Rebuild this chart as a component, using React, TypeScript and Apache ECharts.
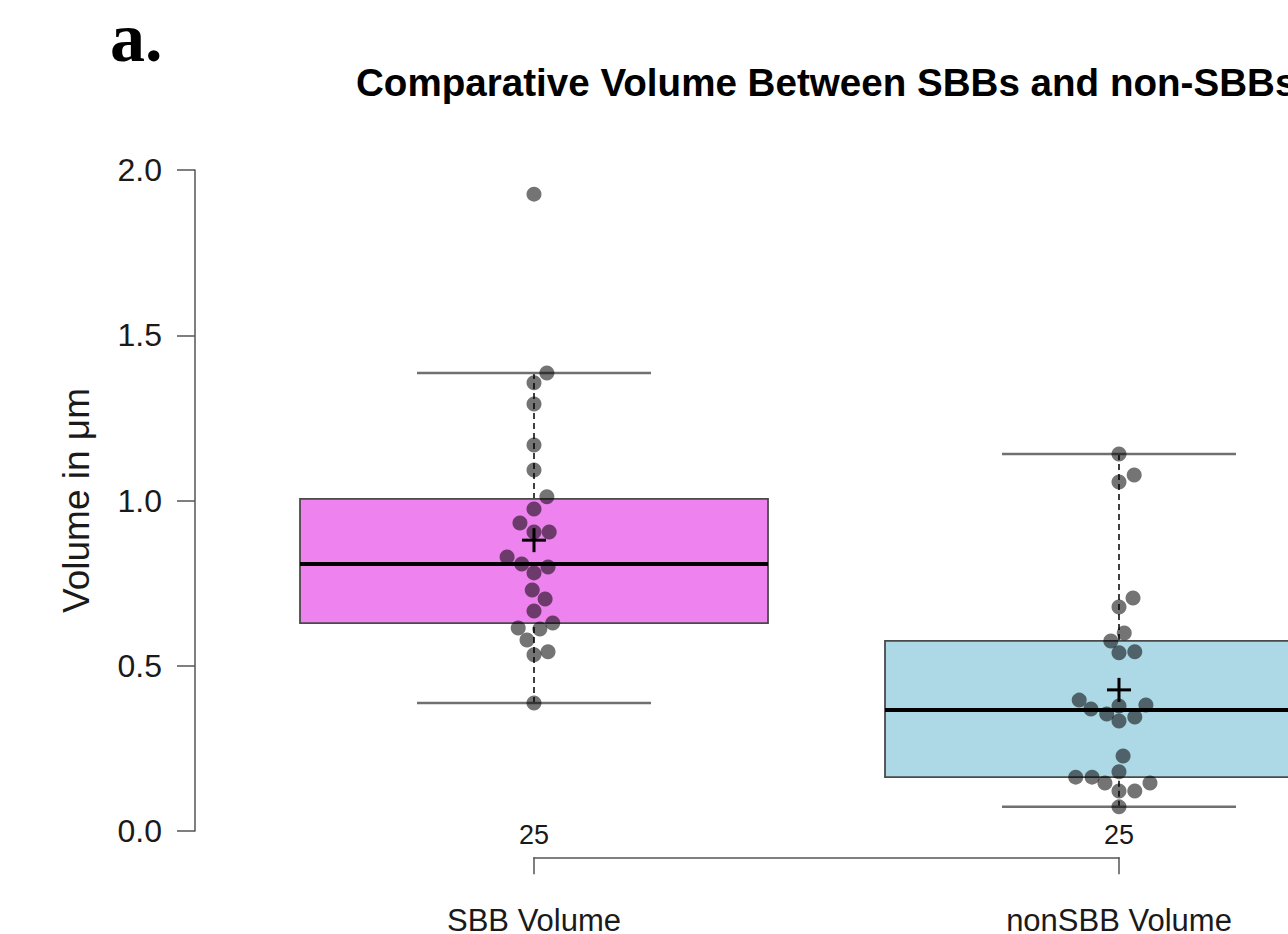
import React, { useEffect, useRef } from "react";
import * as echarts from "echarts";

// ---- data ----
const CATEGORIES = ["SBB Volume", "nonSBB Volume"];
const COUNTS = [25, 25];
const BOX_COLORS = ["#EE82EE", "#ADD8E6"];
const WHISKER_LOW = [0.387, 0.073];
const Q1 = [0.629, 0.163];
const MEDIAN = [0.808, 0.366];
const Q3 = [1.005, 0.575];
const WHISKER_HIGH = [1.386, 1.141];
const MEANS = [0.88, 0.427];

const SBB_VALUES = [
  1.927, 1.386, 1.356, 1.292, 1.168, 1.092, 1.011, 0.974, 0.932, 0.905, 0.905,
  0.829, 0.808, 0.799, 0.781, 0.729, 0.702, 0.666, 0.614, 0.611, 0.629, 0.578,
  0.542, 0.533, 0.387,
];
// horizontal beeswarm offsets (in category units)
const SBB_OFFSETS = [
  0, 0.022, 0, 0, 0, 0, 0.022, 0, -0.024, 0.026, 0, -0.046, -0.021, 0.024, 0,
  -0.003, 0.019, 0, -0.027, 0.01, 0.032, -0.012, 0.024, 0, 0,
];
const NONSBB_VALUES = [
  1.141, 1.077, 1.056, 0.705, 0.678, 0.599, 0.575, 0.539, 0.542, 0.396, 0.369,
  0.354, 0.378, 0.381, 0.333, 0.345, 0.227, 0.179, 0.163, 0.163, 0.145, 0.121,
  0.121, 0.145, 0.073,
];
const NONSBB_OFFSETS = [
  0, 0.026, 0, 0.024, 0, 0.009, -0.014, 0, 0.027, -0.068, -0.048, -0.021, 0,
  0.046, 0, 0.027, 0.007, 0, -0.074, -0.046, -0.024, 0, 0.027, 0.053, 0,
];

const Y_MIN = 0;
const Y_MAX = 2;
const Y_INTERVAL = 0.5;

const BOX_HALF = 0.4;
const CAP_HALF = 0.2;
const FONT = '"Liberation Sans", Arial, Helvetica, sans-serif';

export default function App() {
  const ref = useRef<HTMLDivElement>(null);

  useEffect(() => {
    if (!ref.current) return;
    const chart = echarts.init(ref.current, undefined, { renderer: "svg" });

    const boxData = CATEGORIES.map((_, i) => [
      i + 1,
      WHISKER_LOW[i],
      Q1[i],
      MEDIAN[i],
      Q3[i],
      WHISKER_HIGH[i],
    ]);
    const dots: number[][] = [];
    SBB_VALUES.forEach((v, i) => dots.push([1 + SBB_OFFSETS[i], v]));
    NONSBB_VALUES.forEach((v, i) => dots.push([2 + NONSBB_OFFSETS[i], v]));
    const meanData = MEANS.map((m, i) => [i + 1, m]);

    const option: any = {
      animation: false,
      backgroundColor: "#ffffff",
      graphic: [
        {
          type: "text",
          x: 110,
          y: 37,
          style: {
            text: "a.",
            fontFamily: '"Liberation Serif", "Times New Roman", serif',
            fontWeight: "bold",
            fontSize: 70,
            fill: "#000",
            verticalAlign: "middle",
            align: "left",
          },
        },
        {
          type: "text",
          x: 356,
          y: 82,
          style: {
            text: "Comparative Volume Between SBBs and non-SBBs",
            fontFamily: FONT,
            fontWeight: "bold",
            fontSize: 38.6,
            fill: "#000",
            verticalAlign: "middle",
            align: "left",
          },
        },
      ],
      grid: [
        { left: 195, right: 0, top: 170, bottom: 103 },
        { left: 534, right: 169, top: 857, height: 1 },
      ],
      xAxis: [
        {
          gridIndex: 0,
          type: "value",
          min: 0.4205,
          max: 2.2889,
          show: false,
        },
        {
          gridIndex: 1,
          type: "value",
          min: 1,
          max: 2,
          interval: 1,
          position: "bottom",
          axisLine: { show: true, lineStyle: { color: "#555", width: 1.5 } },
          axisTick: { show: true, length: 17, lineStyle: { color: "#555", width: 1.5 } },
          splitLine: { show: false },
          axisLabel: {
            showMinLabel: true,
            showMaxLabel: true,
            margin: 48,
            fontSize: 31,
            fontFamily: FONT,
            color: "#1a1a1a",
            formatter: (v: number) => CATEGORIES[Math.round(v) - 1] ?? "",
          },
        },
        {
          gridIndex: 1,
          type: "value",
          min: 1,
          max: 2,
          interval: 1,
          position: "top",
          axisLine: { show: false },
          axisTick: { show: false },
          splitLine: { show: false },
          axisLabel: {
            showMinLabel: true,
            showMaxLabel: true,
            margin: 9,
            fontSize: 27,
            fontFamily: FONT,
            color: "#1a1a1a",
            formatter: (v: number) => String(COUNTS[Math.round(v) - 1] ?? ""),
          },
        },
      ],
      yAxis: [
        {
          gridIndex: 0,
          type: "value",
          min: Y_MIN,
          max: Y_MAX,
          interval: Y_INTERVAL,
          name: "Volume in \u03bcm",
          nameLocation: "middle",
          nameGap: 100,
          nameTextStyle: { fontSize: 37, fontFamily: FONT, color: "#1a1a1a" },
          axisLine: { show: true, lineStyle: { color: "#555", width: 1.5 } },
          axisTick: { show: true, length: 18, lineStyle: { color: "#555", width: 1.5 } },
          splitLine: { show: false },
          axisLabel: {
            margin: 33,
            fontSize: 32,
            fontFamily: FONT,
            color: "#1a1a1a",
            formatter: (v: number) => v.toFixed(1),
          },
        },
        { gridIndex: 1, type: "value", min: 0, max: 1, show: false },
      ],
      series: [
        {
          type: "custom",
          xAxisIndex: 0,
          yAxisIndex: 0,
          clip: false,
          z: 2,
          data: boxData,
          renderItem: (params: any, api: any) => {
            const x = api.value(0);
            const lo = api.value(1);
            const q1 = api.value(2);
            const med = api.value(3);
            const q3 = api.value(4);
            const hi = api.value(5);
            const c = (xx: number, yy: number) => api.coord([xx, yy]);
            const lt = c(x - BOX_HALF, q3);
            const rb = c(x + BOX_HALF, q1);
            const line = (a: number[], b: number[], style: any) => ({
              type: "line",
              shape: { x1: a[0], y1: a[1], x2: b[0], y2: b[1] },
              style,
            });
            const dash = { stroke: "#000", lineWidth: 1.5, lineDash: [6, 4] };
            const capStyle = { stroke: "#707070", lineWidth: 2.5 };
            return {
              type: "group",
              children: [
                line(c(x, hi), c(x, q3), dash),
                line(c(x, lo), c(x, q1), dash),
                line(c(x - CAP_HALF, hi), c(x + CAP_HALF, hi), capStyle),
                line(c(x - CAP_HALF, lo), c(x + CAP_HALF, lo), capStyle),
                {
                  type: "rect",
                  shape: { x: lt[0], y: lt[1], width: rb[0] - lt[0], height: rb[1] - lt[1] },
                  style: {
                    fill: BOX_COLORS[params.dataIndex],
                    stroke: "#4a4a4a",
                    lineWidth: 1.8,
                  },
                },
                line(c(x - BOX_HALF, med), c(x + BOX_HALF, med), {
                  stroke: "#000",
                  lineWidth: 4,
                }),
              ],
            };
          },
        },
        {
          type: "scatter",
          xAxisIndex: 0,
          yAxisIndex: 0,
          z: 3,
          symbol: "circle",
          symbolSize: 15,
          itemStyle: { color: "rgba(0,0,0,0.68)" },
          data: dots,
        },
        {
          type: "custom",
          xAxisIndex: 0,
          yAxisIndex: 0,
          clip: false,
          z: 4,
          data: meanData,
          renderItem: (params: any, api: any) => {
            const p = api.coord([api.value(0), api.value(1)]);
            const s = 12;
            const st = { stroke: "#000", lineWidth: 3 };
            return {
              type: "group",
              children: [
                { type: "line", shape: { x1: p[0] - s, y1: p[1], x2: p[0] + s, y2: p[1] }, style: st },
                { type: "line", shape: { x1: p[0], y1: p[1] - s, x2: p[0], y2: p[1] + s }, style: st },
              ],
            };
          },
        },
      ],
    };

    chart.setOption(option);
    return () => chart.dispose();
  }, []);

  return (
    <div
      ref={ref}
      style={{ position: "fixed", left: 0, top: 0, width: 1288, height: 934, background: "#fff" }}
    />
  );
}
